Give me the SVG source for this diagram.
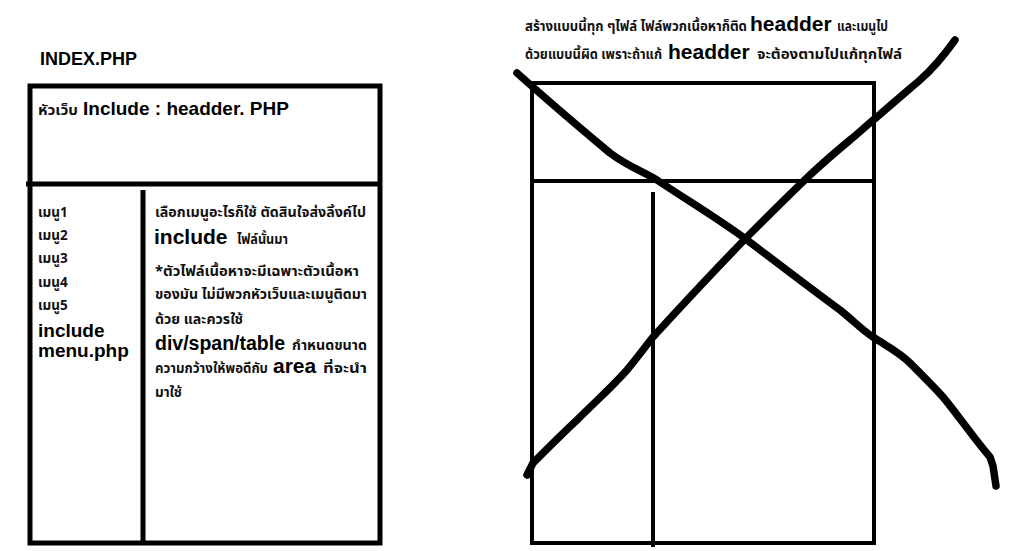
<svg xmlns="http://www.w3.org/2000/svg" width="1027" height="551" viewBox="0 0 1027 551">
<style>
.frame{fill:none;stroke:#000;stroke-width:5}
.frame2{fill:none;stroke:#000;stroke-width:4}
.ln{stroke:#000;stroke-width:5;fill:none}
.ln2{stroke:#000;stroke-width:4;fill:none}
.x{stroke:#000;stroke-width:7.5;fill:none;stroke-linecap:round;stroke-linejoin:round}
.th{font-family:Tahoma,"Leelawadee UI","Noto Sans Thai","Loma","Garuda","Liberation Sans",sans-serif;font-size:13.5px;font-weight:bold;fill:#111}
.b{font-family:"Liberation Sans",Arial,sans-serif;font-weight:bold;fill:#000}
</style>
<rect width="1027" height="551" fill="#fff"/>
<g id="index-title">
<text class="b" x="40" y="65" font-size="18">INDEX.PHP</text>
</g>
<g id="index-page">
<rect class="frame" x="30" y="86" width="350" height="457"/>
<line class="ln" x1="26" y1="184" x2="380" y2="184"/>
<line class="ln" x1="143" y1="190" x2="143" y2="543"/>
</g>
<g id="header-area">
<text class="th" x="38" y="115" textLength="40" lengthAdjust="spacingAndGlyphs">หัวเว็บ</text>
<text class="b" x="83" y="115" font-size="19">Include : headder. PHP</text>
</g>
<g id="menu-area">
<text class="th" x="38" y="217">เมนู1</text>
<text class="th" x="38" y="240">เมนู2</text>
<text class="th" x="38" y="263">เมนู3</text>
<text class="th" x="38" y="287">เมนู4</text>
<text class="th" x="38" y="310">เมนู5</text>
<text class="b" x="38" y="337" font-size="19">include</text>
<text class="b" x="38" y="357" font-size="19">menu.php</text>
</g>
<g id="content-area">
<text class="th" x="155" y="217" textLength="211" lengthAdjust="spacingAndGlyphs">เลือกเมนูอะไรก็ใช้ ตัดสินใจส่งลิ้งค์ไป</text>
<text class="b" x="154" y="244" font-size="21">include</text>
<text class="th" x="237" y="244" textLength="51" lengthAdjust="spacingAndGlyphs">ไฟล์นั้นมา</text>
<text class="th" x="155" y="276" textLength="204" lengthAdjust="spacingAndGlyphs">*ตัวไฟล์เนื้อหาจะมีเฉพาะตัวเนื้อหา</text>
<text class="th" x="155" y="299" textLength="212" lengthAdjust="spacingAndGlyphs">ของมัน ไม่มีพวกหัวเว็บและเมนูติดมา</text>
<text class="th" x="155" y="324" textLength="88" lengthAdjust="spacingAndGlyphs">ด้วย และควรใช้</text>
<text class="b" x="155" y="350" font-size="19.5">div/span/table</text>
<text class="th" x="292" y="350" textLength="75" lengthAdjust="spacingAndGlyphs">กำหนดขนาด</text>
<text class="th" x="155" y="373" textLength="113" lengthAdjust="spacingAndGlyphs">ความกว้างให้พอดีกับ</text>
<text class="b" x="273" y="373" font-size="21">area</text>
<text class="th" x="323" y="373" textLength="44" lengthAdjust="spacingAndGlyphs">ที่จะนำ</text>
<text class="th" x="155" y="397">มาใช้</text>
</g>
<g id="note">
<text class="th" x="525" y="31" textLength="222" lengthAdjust="spacingAndGlyphs">สร้างแบบนี้ทุก ๆไฟล์ ไฟล์พวกเนื้อหาก็ติด</text>
<text class="b" x="750" y="31" font-size="21">headder</text>
<text class="th" x="837" y="31" textLength="51" lengthAdjust="spacingAndGlyphs">และเมนูไป</text>
<text class="th" x="525" y="59" textLength="137" lengthAdjust="spacingAndGlyphs">ด้วยแบบนี้ผิด เพราะถ้าแก้</text>
<text class="b" x="668" y="59" font-size="21">headder</text>
<text class="th" x="757" y="59" textLength="145" lengthAdjust="spacingAndGlyphs">จะต้องตามไปแก้ทุกไฟล์</text>
</g>
<g id="wrong-page">
<rect class="frame2" x="532" y="83" width="342" height="460"/>
<line class="ln2" x1="532" y1="181" x2="874" y2="181"/>
<line class="ln2" x1="653" y1="192" x2="653" y2="547"/>
</g>
<g id="connectors">
<path class="x" d="M517,73 C545,98 580,128 610,153 C630,168 645,172 660,182 C690,202 720,220 747,240 C780,265 810,288 840,310 C855,322 862,330 873,337 C890,348 900,353 910,363 C925,378 935,388 943,397 C958,415 975,440 990,457 L993,466 L996,486"/>
<path class="x" d="M527,475 L533,463 C548,448 562,434 577,420 C595,402 612,387 627,370 C637,358 645,347 653,337 C685,302 715,270 747,237 C770,214 790,194 810,175 C825,161 838,150 850,140 C860,132 868,124 877,117 C893,103 906,92 920,80 C935,67 945,54 955,40"/>
</g>
</svg>
